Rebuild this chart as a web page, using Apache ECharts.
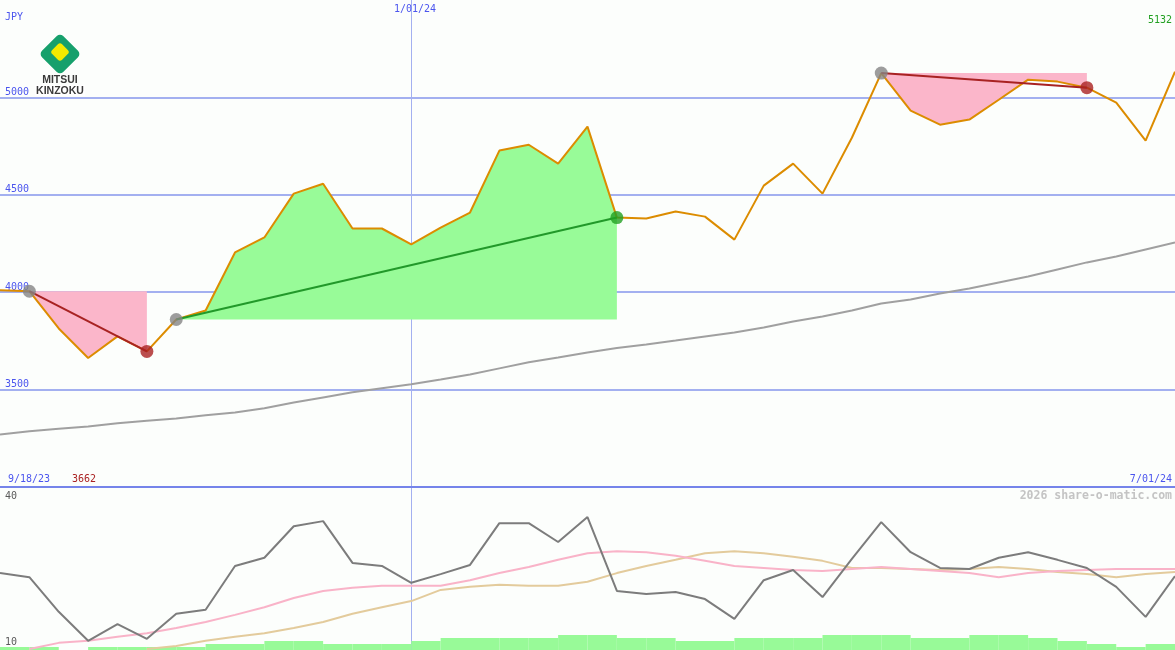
<!DOCTYPE html>
<html><head><meta charset="utf-8">
<script src="https://cdn.jsdelivr.net/npm/echarts@6/dist/echarts.min.js"></script>
<style>html,body{margin:0;padding:0;background:#fcfefc}#c{width:1175px;height:650px}</style>
</head><body><div id="c"></div>
<script>
// ---- data ----
const dates = ['9/25/23','10/02/23','10/09/23','10/16/23','10/23/23','10/30/23','11/06/23','11/13/23','11/20/23','11/27/23',
  '12/04/23','12/11/23','12/18/23','12/25/23','1/01/24','1/08/24','1/15/24','1/22/24','1/29/24','2/05/24',
  '2/12/24','2/19/24','2/26/24','3/04/24','3/11/24','3/18/24','3/25/24','4/01/24','4/08/24','4/15/24',
  '4/22/24','4/29/24','5/06/24','5/13/24','5/20/24','5/27/24','6/03/24','6/10/24','6/17/24','6/24/24','7/01/24'];
const price = [4010,4005,3814,3662,3773,3696,3860,3906,4204,4281,4506,4557,4327,4327,4245,4332,4409,4727,4757,4660,
  4850,4383,4378,4414,4388,4270,4547,4660,4506,4793,5125,4932,4860,4886,4988,5091,5081,5050,4973,4778,5132];
const movingAvg = [3270,3286,3299,3311,3327,3340,3352,3368,3383,3404,3434,3460,3486,3507,3527,3552,3578,3609,3640,3665,
  3691,3714,3732,3752,3773,3793,3819,3850,3875,3906,3942,3963,3993,4019,4050,4081,4117,4153,4183,4219,4255];
const oscGrey = [24.1,23.3,16.5,10.8,14.1,11.2,16.1,16.9,25.5,27.1,33.3,34.3,26.1,25.5,22.2,23.9,25.7,33.9,33.9,30.2,
  35.1,20.6,20.0,20.4,19.0,15.1,22.7,24.7,19.4,26.9,34.1,28.2,25.1,24.9,27.1,28.2,26.7,25.1,21.4,15.5,23.5];
const oscPink = [null,9.2,10.4,10.8,11.6,12.3,13.3,14.5,15.9,17.4,19.2,20.6,21.2,21.6,21.6,21.6,22.7,24.1,25.3,26.7,
  28.0,28.4,28.2,27.5,26.5,25.5,25.1,24.7,24.5,24.9,25.3,24.9,24.5,24.1,23.3,24.1,24.5,24.7,24.9,24.9,24.9];
const oscTan = [null,null,null,null,null,9.2,9.8,10.8,11.6,12.3,13.3,14.5,16.1,17.4,18.6,20.8,21.4,21.8,21.6,21.6,
  22.4,24.1,25.5,26.7,28.0,28.4,28.0,27.3,26.5,25.1,25.1,24.9,24.7,24.9,25.3,24.9,24.3,23.9,23.3,23.9,24.3];
const volume = [1,1,0,1,1,1,1,2,2,3,3,2,2,2,3,4,4,4,4,5,5,4,4,3,3,4,4,4,5,5,5,4,4,5,5,4,3,2,1,2];
const periods = [{from:1,to:5,dir:'down'},{from:6,to:21,dir:'up'},{from:30,to:37,dir:'down'}];
const priceTicks = [3500,4000,4500,5000];
const oscTicks = [10,40];
const midDate = '1/01/24';
const texts = {unit:'JPY', start:'9/18/23', end:'7/01/24', last:'5132', low:'3662', credit:'2026 share-o-matic.com'};

// ---- chart ----
const chart = echarts.init(document.getElementById('c'));
const mono = '"DejaVu Sans Mono", monospace';
const gridBlue = '#a3b0f0';
const series = [];

series.push({type:'line', xAxisIndex:0, yAxisIndex:0, data:movingAvg, symbol:'none', z:1,
  lineStyle:{color:'#a0a0a0', width:2}});

periods.forEach((p,k)=>{
  const level = price[p.from];
  const inSpan = i => i>=p.from && i<=p.to;
  const base = price.map((v,i)=> inSpan(i) ? (p.dir==='up' ? level : v) : null);
  const delta = price.map((v,i)=> inSpan(i) ? Math.abs(v-level) : null);
  series.push({type:'line', xAxisIndex:0, yAxisIndex:0, stack:'f'+k, data:base, symbol:'none', silent:true, z:2,
    lineStyle:{opacity:0, width:0}});
  series.push({type:'line', xAxisIndex:0, yAxisIndex:0, stack:'f'+k, data:delta, symbol:'none', silent:true, z:2,
    lineStyle:{opacity:0, width:0}, areaStyle:{color:p.dir==='up'?'#98fb98':'#fbb6ca', opacity:1}});
});

series.push({type:'line', xAxisIndex:0, yAxisIndex:0, data:price, symbol:'none', z:3,
  lineStyle:{color:'#dc8c00', width:2}});

periods.forEach(p=>{
  series.push({type:'line', xAxisIndex:0, yAxisIndex:0, connectNulls:true, symbol:'none', z:4,
    data: price.map((v,i)=> (i===p.from||i===p.to) ? v : null),
    lineStyle:{color:p.dir==='up'?'#22992a':'#a82222', width:2}});
});

series.push({type:'scatter', xAxisIndex:0, yAxisIndex:0, symbolSize:13, z:5,
  data: periods.map(p=>[p.from, price[p.from]]), itemStyle:{color:'#858585'}});
series.push({type:'scatter', xAxisIndex:0, yAxisIndex:0, symbolSize:13, z:5,
  data: periods.map(p=>({value:[p.to, price[p.to]], itemStyle:{color:p.dir==='up'?'#22a022':'#aa2222'}}))});

// lower panel
series.push({type:'bar', xAxisIndex:2, yAxisIndex:2, data:volume, barCategoryGap:'0%', z:1,
  itemStyle:{color:'#98fa98'}});
series.push({type:'line', xAxisIndex:1, yAxisIndex:1, data:oscTan, symbol:'none', z:2,
  lineStyle:{color:'#e3cb9c', width:2}});
series.push({type:'line', xAxisIndex:1, yAxisIndex:1, data:oscPink, symbol:'none', z:2,
  lineStyle:{color:'#f9b3c8', width:2}});
series.push({type:'line', xAxisIndex:1, yAxisIndex:1, data:oscGrey, symbol:'none', z:3,
  lineStyle:{color:'#7c7c7c', width:2}});

const txt = (x,y,text,fill,align,font) => ({type:'text', x, y, z:100,
  style:{text, fill, font: font || ('10px ' + mono), align, verticalAlign:'middle'}});
const midSplit = {show:true, interval:(idx, val)=> val===midDate, lineStyle:{color:gridBlue, width:1}};

chart.setOption({
  animation:false,
  backgroundColor:'#fcfefc',
  grid:[{left:0,right:0,top:0,height:487},{left:0,right:0,top:487,bottom:0}],
  xAxis:[
    {type:'category', gridIndex:0, data:dates, boundaryGap:false,
      axisLine:{show:true, lineStyle:{color:'#7584ea', width:2}}, axisTick:{show:false}, axisLabel:{show:false}, splitLine:midSplit},
    {type:'category', gridIndex:1, data:dates, boundaryGap:false,
      axisLine:{show:false}, axisTick:{show:false}, axisLabel:{show:false}, splitLine:midSplit},
    {type:'category', gridIndex:1, data:dates.slice(0, volume.length), boundaryGap:true, show:false}
  ],
  yAxis:[
    {type:'value', gridIndex:0, min:3000, max:5500, interval:500,
      axisLine:{show:false}, axisTick:{show:false},
      splitLine:{show:true, lineStyle:{width:2, color:['rgba(0,0,0,0)',gridBlue,gridBlue,gridBlue,gridBlue,'rgba(0,0,0,0)']}},
      axisLabel:{inside:true, margin:5, verticalAlign:'bottom', color:'#4b55ee', fontFamily:mono, fontSize:10,
        customValues:priceTicks, formatter:v=>String(v)}},
    {type:'value', gridIndex:1, min:9, max:41,
      axisLine:{show:false}, axisTick:{show:false}, splitLine:{show:false},
      axisLabel:{inside:true, margin:5, color:'#5a5a5a', fontFamily:mono, fontSize:10, customValues:oscTicks,
        formatter:v=> v===oscTicks[1] ? '{a|'+v+'}' : '{b|'+v+'}',
        rich:{a:{padding:[8,0,0,0], color:'#5a5a5a', fontFamily:mono, fontSize:10},
              b:{padding:[0,0,6,0], color:'#5a5a5a', fontFamily:mono, fontSize:10}}}},
    {type:'value', gridIndex:1, min:0, max:163/3, show:false}
  ],
  graphic:[
    // logo
    {type:'rect', x:60, y:54, rotation:Math.PI/4, z:90, shape:{x:-15,y:-15,width:30,height:30,r:4.5}, style:{fill:'#16a06c'}},
    {type:'rect', x:60, y:52, rotation:Math.PI/4, z:91, shape:{x:-7,y:-7,width:14,height:14,r:3}, style:{fill:'#f3ea00'}},
    {type:'rect', z:90, shape:{x:35,y:85,width:50,height:11}, style:{fill:'#ffffff'}},
    txt(60,80.5,'MITSUI','#3a3a3a','center','bold 10.5px "Liberation Sans", Arial, sans-serif'),
    txt(60,91,'KINZOKU','#3a3a3a','center','bold 10.5px "Liberation Sans", Arial, sans-serif'),
    txt(5,17,texts.unit,'#4b55ee','left'),
    txt(415,9,midDate,'#4b55ee','center'),
    txt(1172,20,texts.last,'#22a022','right'),
    txt(8,479,texts.start,'#4b55ee','left'),
    txt(72,479,texts.low,'#aa2222','left'),
    txt(1172,479,texts.end,'#4b55ee','right'),
    txt(1172,496,texts.credit,'#c4c4c4','right','bold 11.5px ' + mono)
  ],
  series
});
</script></body></html>
